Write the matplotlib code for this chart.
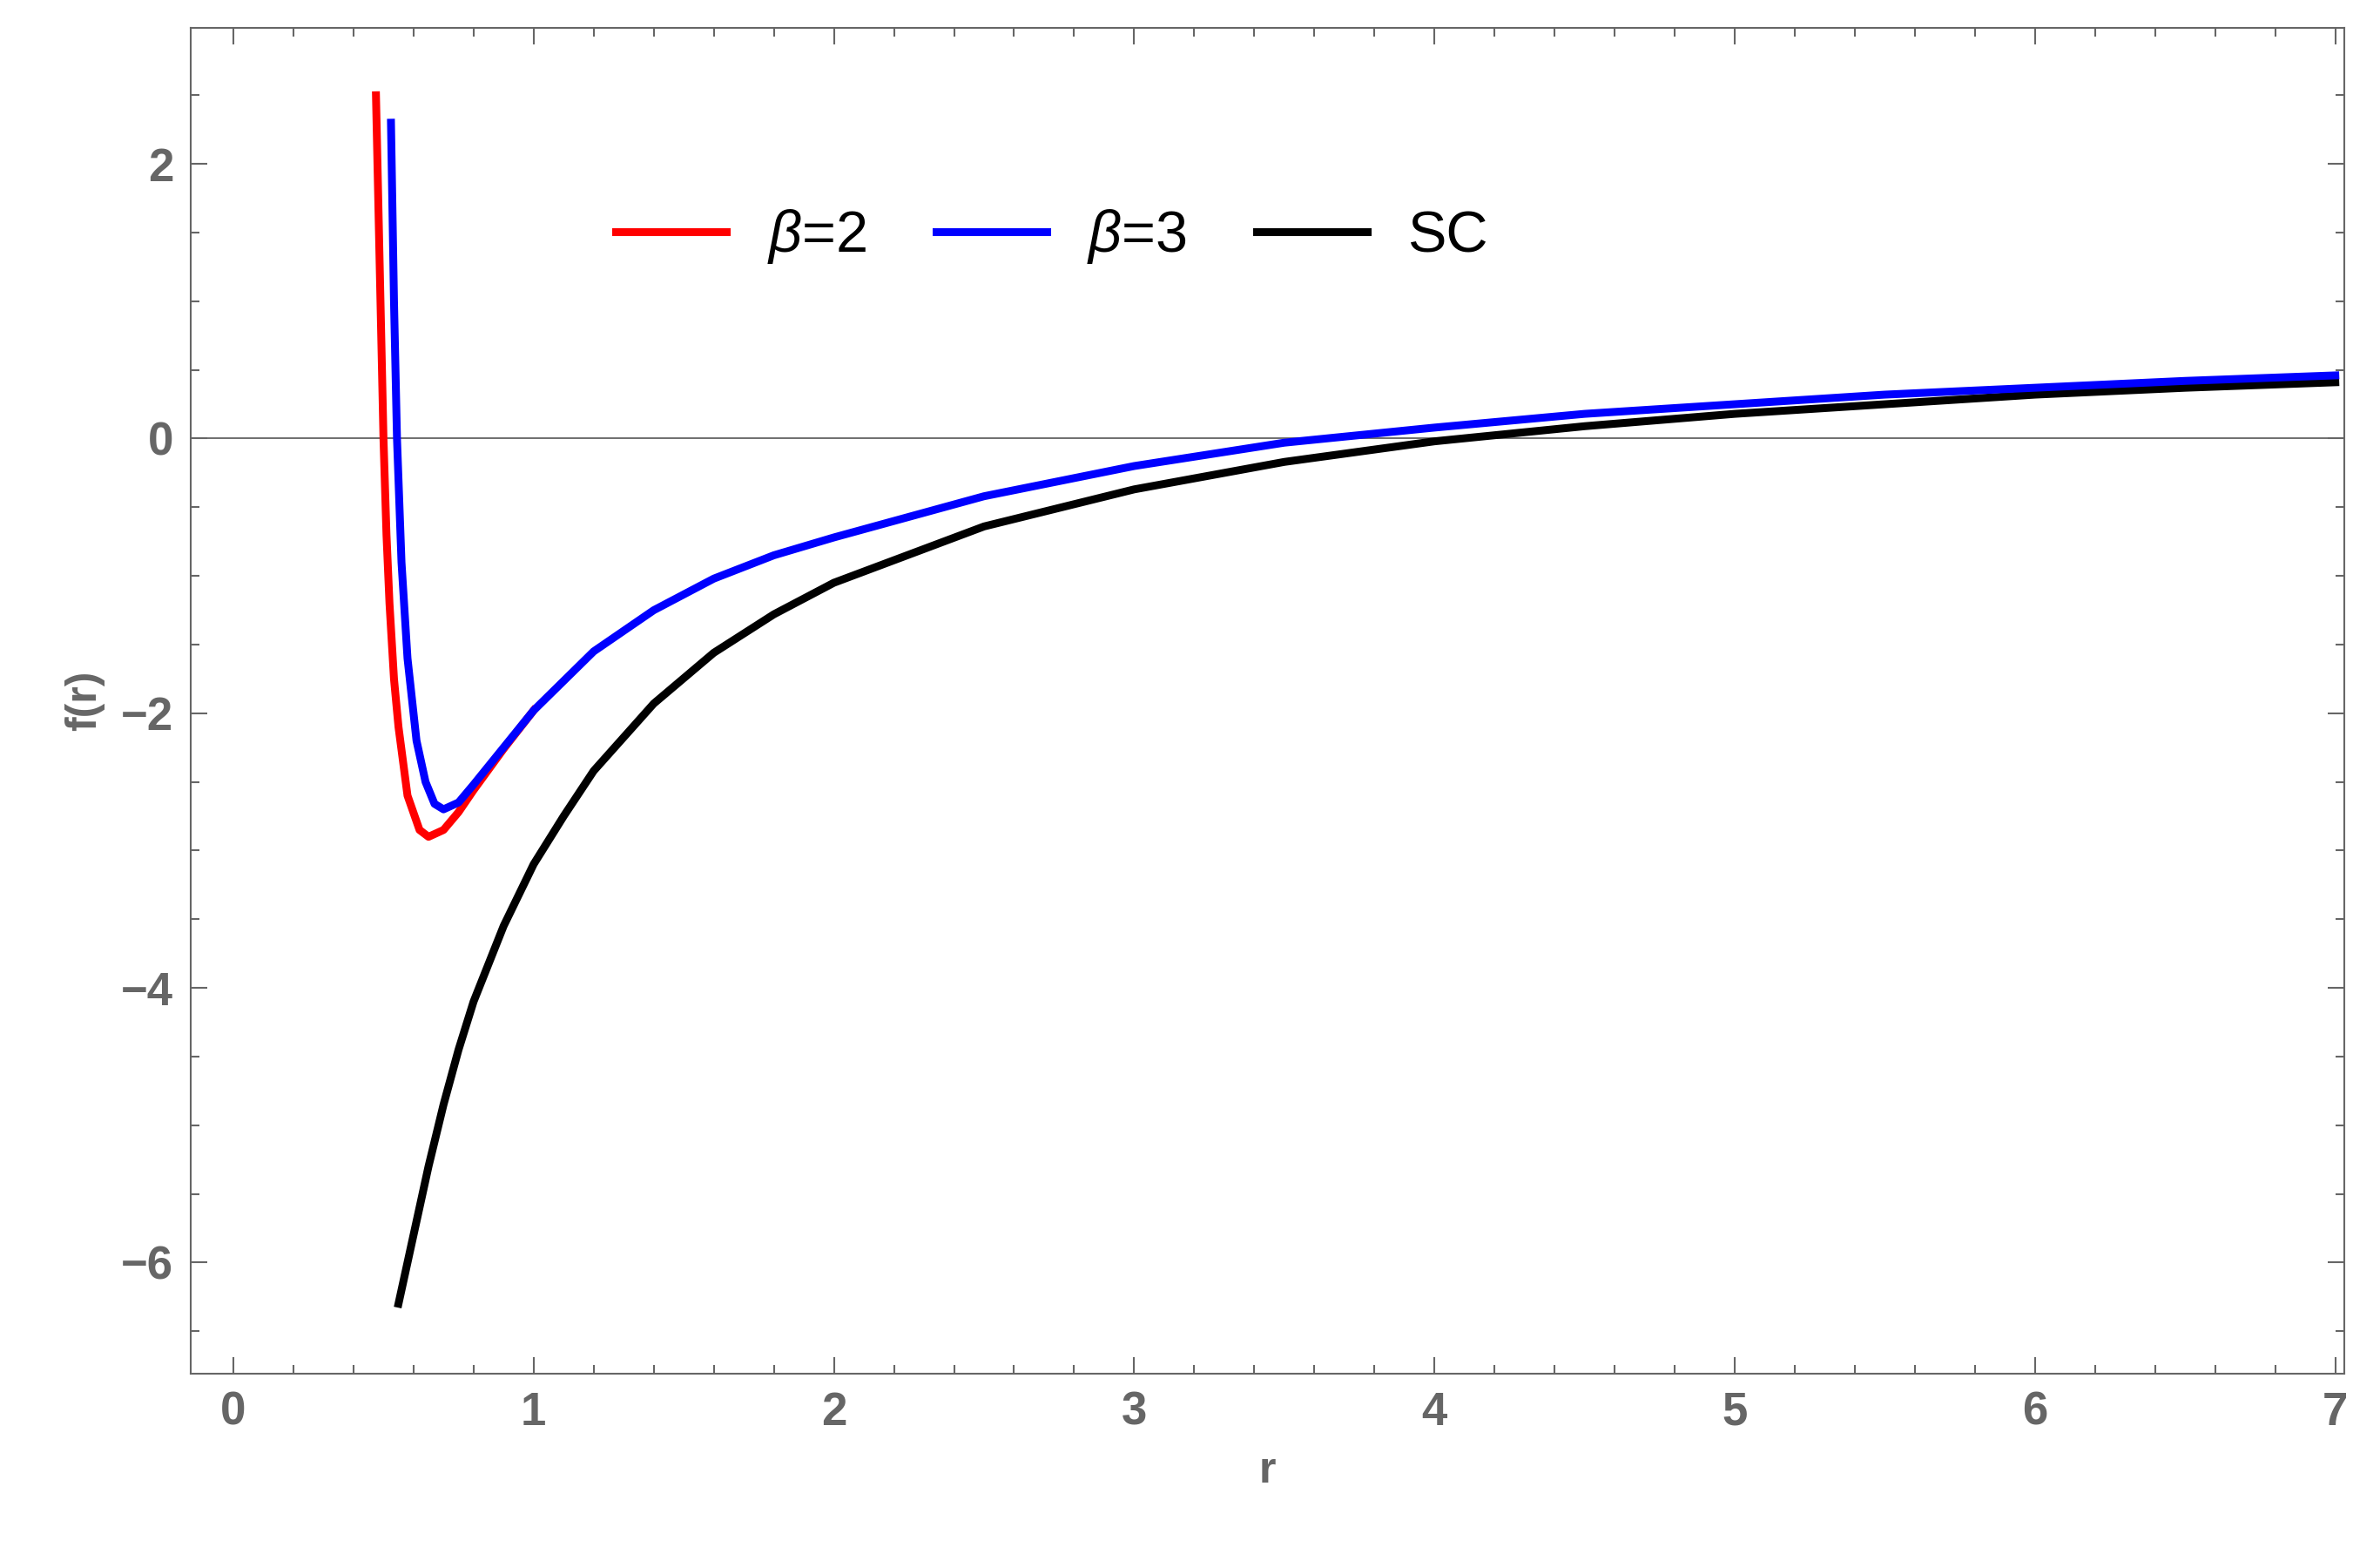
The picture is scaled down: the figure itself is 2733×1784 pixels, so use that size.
import matplotlib
matplotlib.use("Agg")
import matplotlib.pyplot as plt
from matplotlib.ticker import MultipleLocator

plt.rcParams["font.family"] = ["Liberation Sans", "DejaVu Sans"]
plt.rcParams["mathtext.fontset"] = "custom"
plt.rcParams["mathtext.it"] = "Liberation Sans:italic"

# ── Data ──────────────────────────────────────────────────────────────────────
r_b2 = [0.475, 0.49, 0.5, 0.51, 0.52, 0.535, 0.55, 0.58, 0.62, 0.65, 0.7, 0.75, 0.8, 0.9, 1.0]
f_b2 = [2.5, 1.0, 0.0, -0.7, -1.2, -1.75, -2.1, -2.6, -2.85, -2.9, -2.85, -2.72, -2.56, -2.26, -1.98]

r_b3 = [0.525, 0.535, 0.545, 0.56, 0.58, 0.61, 0.64, 0.67, 0.7, 0.75, 0.8, 0.9, 1.0,
        1.2, 1.4, 1.6, 1.8, 2.0, 2.5, 3.0, 3.5, 4.0, 4.5, 5.0, 5.5, 6.0, 6.5, 7.0]
f_b3 = [2.3, 1.0, 0.0, -0.9, -1.6, -2.2, -2.5, -2.66, -2.7, -2.65, -2.52, -2.25, -1.98,
        -1.55, -1.25, -1.02, -0.85, -0.72, -0.42, -0.2, -0.03, 0.08, 0.18, 0.25, 0.32, 0.37, 0.42, 0.46]

r_sc = [0.55, 0.6, 0.65, 0.7, 0.75, 0.8, 0.9, 1.0, 1.1, 1.2, 1.4, 1.6, 1.8, 2.0, 2.5,
        3.0, 3.5, 4.0, 4.5, 5.0, 5.5, 6.0, 6.5, 7.0]
f_sc = [-6.3, -5.8, -5.3, -4.85, -4.45, -4.1, -3.55, -3.1, -2.75, -2.42, -1.93, -1.56, -1.28, -1.05, -0.64,
        -0.37, -0.17, -0.02, 0.09, 0.18, 0.25, 0.32, 0.37, 0.41]

GRAY = "#666666"

fig = plt.figure(figsize=(27.33, 17.84), dpi=100)
ax = fig.add_axes([0.080, 0.116, 0.905, 0.866])

ax.axhline(0, color="#555555", linewidth=1.2, zorder=1)
ax.plot(r_b2, f_b2, color="red", lw=6.5, label=r"$\beta$=2", zorder=3)
ax.plot(r_b3, f_b3, color="blue", lw=6.5, label=r"$\beta$=3", zorder=4)
ax.plot(r_sc, f_sc, color="black", lw=6.5, label="SC", zorder=2)

ax.set_xlim(-0.143, 7.03)
ax.set_ylim(-6.81, 2.99)
ax.xaxis.set_major_locator(MultipleLocator(1))
ax.xaxis.set_minor_locator(MultipleLocator(0.2))
ax.yaxis.set_major_locator(MultipleLocator(2))
ax.yaxis.set_minor_locator(MultipleLocator(0.5))
ax.tick_params(which="both", direction="in", top=True, right=True, colors=GRAY,
               labelsize=38, width=1.5)
ax.tick_params(which="major", length=14, pad=14)
ax.tick_params(which="minor", length=7)
for lab in ax.get_xticklabels() + ax.get_yticklabels():
    lab.set_fontweight("bold")
for s in ax.spines.values():
    s.set_edgecolor(GRAY)
    s.set_linewidth(1.5)

ax.set_xlabel("r", fontsize=36, fontweight="bold", color=GRAY, labelpad=14)
ax.set_ylabel("f(r)", fontsize=36, fontweight="bold", color=GRAY, labelpad=14)

ax.legend(loc="center", bbox_to_anchor=(0.40, 0.845), ncol=3, frameon=False,
          fontsize=48, handlelength=1.9, columnspacing=1.2, handletextpad=0.7)

fig.savefig("out.png", dpi=100)
